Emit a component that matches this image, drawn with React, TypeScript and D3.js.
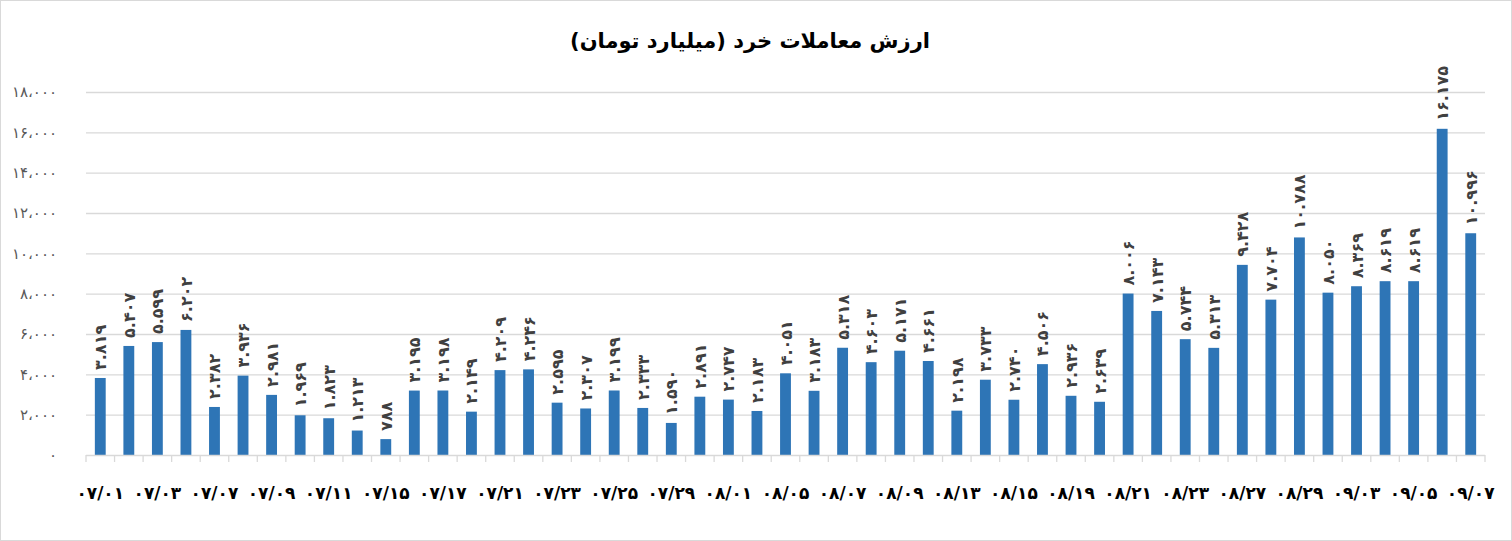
import React, { useEffect, useRef } from 'react';
import { axisLeft, scaleBand, scaleLinear, select } from 'd3';

const title = 'ارزش معاملات خرد (میلیارد تومان)';

const dates = [
  '07/01', '07/02', '07/03', '07/04', '07/07', '07/08', '07/09', '07/10',
  '07/11', '07/14', '07/15', '07/16', '07/17', '07/18', '07/21', '07/22',
  '07/23', '07/24', '07/25', '07/28', '07/29', '07/30', '08/01', '08/04',
  '08/05', '08/06', '08/07', '08/08', '08/09', '08/12', '08/13', '08/14',
  '08/15', '08/18', '08/19', '08/20', '08/21', '08/22', '08/23', '08/26',
  '08/27', '08/28', '08/29', '09/02', '09/03', '09/04', '09/05', '09/06',
  '09/07',
];

const values = [
  3819, 5407, 5599, 6202, 2382, 3936, 2981, 1969,
  1823, 1213, 788, 3195, 3198, 2149, 4209, 4246,
  2595, 2307, 3199, 2333, 1590, 2891, 2747, 2183,
  4051, 3183, 5318, 4603, 5171, 4661, 2198, 3733,
  2740, 4506, 2936, 2639, 8006, 7143, 5744, 5313,
  9428, 7704, 10788, 8050, 8369, 8619, 8619, 16175,
  10996,
];

const yTicks = [0, 2000, 4000, 6000, 8000, 10000, 12000, 14000, 16000, 18000];

const W = 1512;
const H = 541;
const FONT = '"DejaVu Sans", sans-serif';

const faDigits = (s: string) => s.replace(/[0-9]/g, d => '۰۱۲۳۴۵۶۷۸۹'[+d]);
const group = (v: number, sep: string) =>
  String(v).replace(/\B(?=(\d{3})+(?!\d))/g, sep);

function App() {
  const svgRef = useRef<SVGSVGElement>(null);

  useEffect(() => {
    const svg = select(svgRef.current);
    svg.selectAll('*').remove();

    const x = scaleBand<string>()
      .domain(dates)
      .range([86, 1485])
      .paddingInner(0.62)
      .paddingOuter(0.31);
    const y = scaleLinear().domain([0, 18000]).range([455, 92]);

    // frame
    svg
      .append('rect')
      .attr('x', 0.5)
      .attr('y', 0.5)
      .attr('width', W - 1)
      .attr('height', H - 1)
      .attr('fill', '#fff')
      .attr('stroke', '#d9d9d9');

    svg
      .append('text')
      .attr('x', 750)
      .attr('y', 48)
      .attr('text-anchor', 'middle')
      .attr('font-family', FONT)
      .attr('font-weight', 'bold')
      .attr('font-size', 21)
      .attr('fill', '#000')
      .attr('direction', 'rtl')
      .text(title);

    // gridlines + y labels
    const yAxis = axisLeft(y)
      .tickValues(yTicks)
      .tickSize(-(1485 - 86))
      .tickPadding(29)
      .tickFormat(d => faDigits(group(+d, '،')));
    const gy = svg.append('g').attr('transform', 'translate(86,0)').call(yAxis);
    gy.select('.domain').remove();
    gy.selectAll('.tick line')
      .attr('stroke', '#d9d9d9')
      .attr('stroke-width', 1.3)
      .attr('stroke-opacity', (d: any) => (d === 0 ? 0 : 1));
    gy.selectAll('.tick text')
      .attr('font-family', FONT)
      .attr('font-size', 15)
      .attr('fill', '#595959')
      .attr('direction', 'ltr');

    // bars
    svg
      .append('g')
      .selectAll('rect')
      .data(values)
      .join('rect')
      .attr('x', (d, i) => x(dates[i])!)
      .attr('y', d => y(d))
      .attr('width', x.bandwidth())
      .attr('height', d => y(0) - y(d))
      .attr('fill', '#2e75b6');

    // x axis line + ticks
    const gx = svg.append('g');
    gx.append('line')
      .attr('x1', 86)
      .attr('x2', 1485)
      .attr('y1', 455.5)
      .attr('y2', 455.5)
      .attr('stroke', '#d9d9d9')
      .attr('stroke-width', 1.5);
    const step = x.step();
    gx.selectAll('line.tk')
      .data([...dates, 'end'])
      .join('line')
      .attr('class', 'tk')
      .attr('x1', (d, i) => 86 + i * step)
      .attr('x2', (d, i) => 86 + i * step)
      .attr('y1', 455)
      .attr('y2', 462)
      .attr('stroke', '#d9d9d9')
      .attr('stroke-width', 1.3);
    gx.selectAll('text')
      .data(dates.filter((d, i) => i % 2 === 0))
      .join('text')
      .attr('x', d => x(d)! + x.bandwidth() / 2)
      .attr('y', 499)
      .attr('text-anchor', 'middle')
      .attr('font-family', FONT)
      .attr('font-weight', 'bold')
      .attr('font-size', 17)
      .attr('fill', '#000')
      .attr('direction', 'ltr')
      .text(d => faDigits('0' + d.slice(1)));

    // data labels
    svg
      .append('g')
      .selectAll('text')
      .data(values)
      .join('text')
      .attr('transform', (d, i) => {
        const cx = x(dates[i])! + x.bandwidth() / 2;
        return `translate(${cx + 6},${y(d) - 8}) rotate(-90)`;
      })
      .attr('text-anchor', 'start')
      .attr('font-family', FONT)
      .attr('font-weight', 'bold')
      .attr('font-size', 16)
      .attr('fill', '#404040')
      .attr('direction', 'ltr')
      .text(d => faDigits(group(d, '.')));
  }, []);

  return (
    <svg
      ref={svgRef}
      width={W}
      height={H}
      style={{ position: 'absolute', left: 0, top: 0 }}
    />
  );
}

export default App;
